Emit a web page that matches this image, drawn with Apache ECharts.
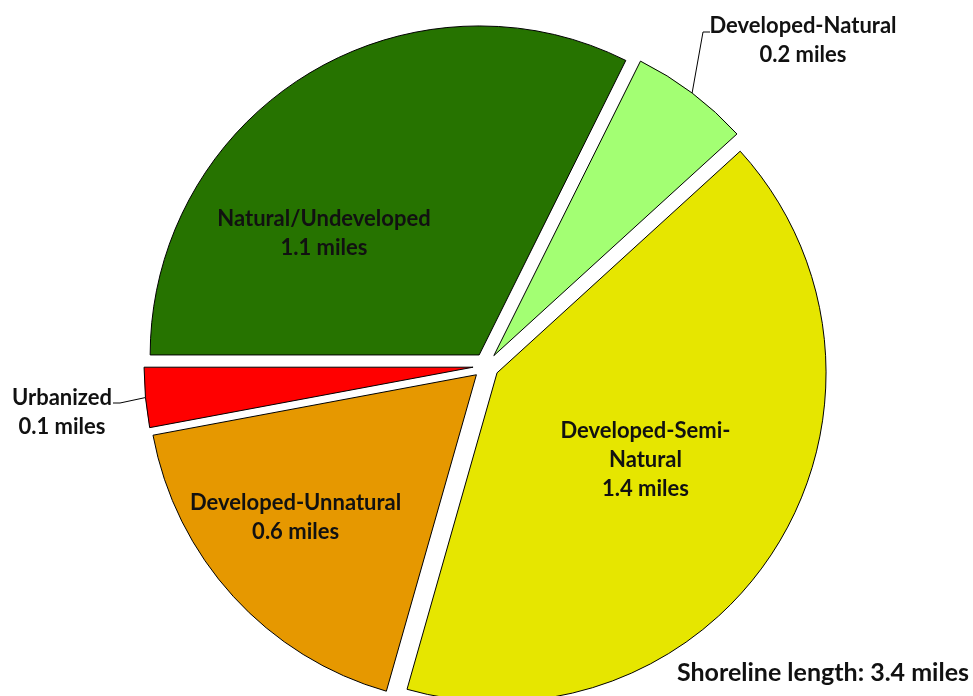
<!DOCTYPE html>
<html>
<head>
<meta charset="utf-8">
<script src="https://cdn.jsdelivr.net/npm/echarts@6/dist/echarts.min.js"></script>
<style>
  html, body { margin: 0; padding: 0; background: #fff; }
  #chart { width: 973px; height: 696px; }
</style>
</head>
<body>
<div id="chart"></div>
<script>
// Shoreline classes and their lengths in miles
const categories = ['Natural/Undeveloped', 'Developed-Natural', 'Developed-Semi-Natural', 'Developed-Unnatural', 'Urbanized'];
const labelNames = ['Natural/Undeveloped', 'Developed-Natural', 'Developed-Semi-\nNatural', 'Developed-Unnatural', 'Urbanized'];
const miles = [1.1, 0.2, 1.4, 0.6, 0.1];
const colors = ['#267300', '#A3FF73', '#E6E600', '#E69800', '#FF0000'];
const totalText = 'Shoreline length: 3.4 miles';

const FONT = 'Lato';
const CX = 486, CY = 366, R = 329, EXPLODE = 13;

// Label placement: inside labels are nudged from the slice centroid,
// outside labels (small slices) sit beside the pie with a leader line.
const labelPlacement = [
  { inside: true, dx: -67, dy: 21 },
  { inside: false, x: 803, y: 40, line: [[703, 32], [710, 32]] },
  { inside: true, dx: 6, dy: -1 },
  { inside: true, dx: -57, dy: 30 },
  { inside: false, x: 62, y: 412, line: [[120, 403], [113, 403]] }
];

const chart = echarts.init(document.getElementById('chart'), null, { renderer: 'canvas' });

const total = miles.reduce((a, b) => a + b, 0);
let acc = 0;

// One pie series per class; each one shows only its own slice and is
// shifted outward along that slice's bisector, giving an exploded pie.
const series = categories.map((cat, i) => {
  const a0 = acc / total * 360;
  acc += miles[i];
  const a1 = acc / total * 360;
  const mid = (a0 + a1) / 2;              // clockwise from 9 o'clock
  const rad = (180 - mid) * Math.PI / 180;
  const ox = Math.cos(rad) * EXPLODE;
  const oy = -Math.sin(rad) * EXPLODE;
  const place = labelPlacement[i];

  return {
    type: 'pie',
    center: [CX + ox, CY + oy],
    radius: R,
    startAngle: 180,
    clockwise: true,
    avoidLabelOverlap: false,
    silent: true,
    emphasis: { disabled: true },
    z: 2,
    label: {
      show: false,
      color: '#111',
      fontFamily: FONT,
      fontWeight: 'bold',
      fontSize: 22,
      lineHeight: 29,
      align: 'center',
      formatter: p => labelNames[p.dataIndex] + '\n' + miles[p.dataIndex].toFixed(1) + ' miles'
    },
    labelLine: { show: false, lineStyle: { color: '#000', width: 1 }, length: 20, length2: 8 },
    labelLayout: function (params) {
      if (params.dataIndex !== i) return {};
      if (place.inside) return { dx: place.dx, dy: place.dy };
      const p0 = params.labelLinePoints ? params.labelLinePoints[0] : null;
      const out = { x: place.x, y: place.y, align: 'center', verticalAlign: 'middle' };
      if (p0) out.labelLinePoints = [p0, place.line[0], place.line[1]];
      return out;
    },
    data: categories.map((name, j) => ({
      name: name,
      value: miles[j],
      itemStyle: j === i
        ? { color: colors[j], borderColor: '#000', borderWidth: 1 }
        : { color: 'rgba(0,0,0,0)', borderWidth: 0 },
      label: { show: j === i, position: place.inside ? 'inside' : 'outside' },
      labelLine: { show: j === i && !place.inside }
    }))
  };
});

chart.setOption({
  animation: false,
  backgroundColor: '#ffffff',
  graphic: [{
    type: 'text',
    right: 4,
    bottom: 11,
    style: {
      text: totalText,
      font: 'bold 25px ' + FONT,
      fill: '#111'
    }
  }],
  series: series
});
</script>
</body>
</html>
